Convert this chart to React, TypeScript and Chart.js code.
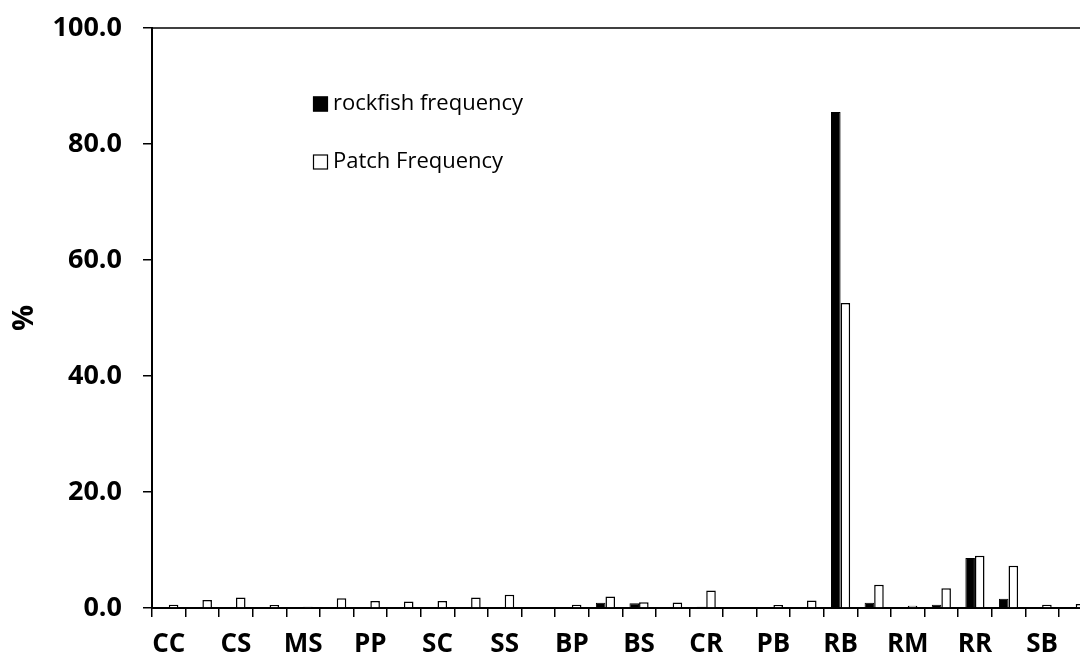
import React, { useEffect, useRef } from 'react';
import { Chart, registerables } from 'chart.js';

Chart.register(...registerables);

const categories = ['CC', 'CM', 'CS', 'MM', 'MS', 'PC', 'PP', 'PS', 'SC', 'SM', 'SS', 'BB', 'BP', 'BR', 'BS', 'CB', 'CR', 'MR', 'PB', 'PR', 'RB', 'RC', 'RM', 'RP', 'RR', 'RS', 'SB', 'SR'];
const rockfishFrequency = [0, 0, 0, 0, 0, 0, 0, 0, 0, 0, 0, 0.1, 0, 0.9, 0.8, 0, 0.2, 0, 0, 0, 85.5, 0.9, 0, 0.55, 8.6, 1.6, 0, 0];
const patchFrequency = [0.55, 1.4, 1.8, 0.5, 0.2, 1.7, 1.2, 1.1, 1.2, 1.8, 2.3, 0.1, 0.55, 2.0, 1.0, 0.95, 3.0, 0.1, 0.5, 1.3, 52.6, 4.0, 0.4, 3.4, 9.0, 7.3, 0.55, 0.7];
const seriesLabels = ['rockfish frequency', 'Patch Frequency'];
const yMin = 0;
const yMax = 100;
const yStep = 20;
const yTitle = '%';

const FONT = "'Open Sans', 'DejaVu Sans', sans-serif";

const frameAndLegend = {
  id: 'frameAndLegend',
  afterDraw(chart: any) {
    const { ctx, chartArea } = chart;
    ctx.save();
    // top border of plot area
    ctx.strokeStyle = '#000';
    ctx.lineWidth = 1.5;
    ctx.beginPath();
    ctx.moveTo(chartArea.left, chartArea.top);
    ctx.lineTo(chartArea.right, chartArea.top);
    ctx.stroke();

    // legend inside plot area
    const rows = [
      { y: 104, fill: '#000' },
      { y: 162, fill: '#fff' },
    ];
    ctx.font = `22px ${FONT}`;
    ctx.textBaseline = 'middle';
    ctx.textAlign = 'left';
    chart.data.datasets.forEach((ds: any, i: number) => {
      const r = rows[i];
      const sx = 313;
      const size = 15;
      ctx.fillStyle = r.fill;
      ctx.fillRect(sx, r.y - size / 2, size, size);
      ctx.strokeStyle = '#000';
      ctx.lineWidth = 1.2;
      ctx.strokeRect(sx + 0.5, r.y - size / 2 + 0.5, size - 1, size - 1);
      ctx.fillStyle = '#000';
      ctx.fillText(ds.label, 333, r.y);
    });
    ctx.restore();
  },
};

function BarChart() {
  const ref = useRef<HTMLCanvasElement | null>(null);

  useEffect(() => {
    document.body.style.margin = '0';
    const canvas = ref.current;
    if (!canvas) return;
    const chart = new Chart(canvas, {
      type: 'bar',
      data: {
        labels: categories,
        datasets: [
          {
            label: seriesLabels[0],
            data: rockfishFrequency,
            backgroundColor: '#000',
            borderColor: '#000',
            borderWidth: 1,
          },
          {
            label: seriesLabels[1],
            data: patchFrequency,
            backgroundColor: '#fff',
            borderColor: '#000',
            borderWidth: 1.5,
          },
        ],
      },
      options: {
        responsive: false,
        animation: false,
        devicePixelRatio: 1,
        datasets: {
          bar: { categoryPercentage: 0.57, barPercentage: 1.0 },
        },
        layout: { padding: { top: 28, right: 7.5, bottom: 0, left: 0 } },
        plugins: {
          legend: { display: false },
          tooltip: { enabled: false },
        },
        scales: {
          x: {
            type: 'category',
            offset: true,
            afterFit: (scale: any) => {
              scale.height = 48;
              scale.paddingLeft = 0;
              scale.paddingRight = 0;
            },
            grid: {
              display: true,
              offset: true,
              drawOnChartArea: false,
              drawTicks: true,
              tickLength: 9,
              color: '#000',
              lineWidth: 1.5,
            },
            border: { display: true, color: '#000', width: 2 },
            ticks: {
              autoSkip: false,
              maxRotation: 0,
              minRotation: 0,
              padding: 12,
              color: '#000',
              font: { family: FONT, size: 26, weight: 'bold' },
              callback: (_v: any, idx: number) => (idx % 2 === 0 ? categories[idx] : ''),
            },
          },
          y: {
            min: yMin,
            max: yMax,
            afterFit: (scale: any) => {
              scale.width = 152;
              scale.paddingTop = 0;
              scale.paddingBottom = 0;
            },
            grid: {
              display: true,
              drawOnChartArea: false,
              drawTicks: true,
              tickLength: 9,
              color: '#000',
              lineWidth: 1.5,
            },
            border: { display: true, color: '#000', width: 2 },
            title: {
              display: true,
              text: yTitle,
              color: '#000',
              padding: { top: 7, bottom: 0 },
              font: { family: FONT, size: 29, weight: 'bold' },
            },
            ticks: {
              stepSize: yStep,
              padding: 21,
              color: '#000',
              font: { family: FONT, size: 27, weight: 'bold' },
              callback: (v: any) => Number(v).toFixed(1),
            },
          },
        },
      },
      plugins: [frameAndLegend],
    });
    return () => chart.destroy();
  }, []);

  return (
    <div style={{ width: 1080, height: 656, overflow: 'hidden', position: 'relative', background: '#fff' }}>
      <canvas ref={ref} width={1100} height={656} style={{ display: 'block' }} />
    </div>
  );
}

export default function App() {
  return <BarChart />;
}
